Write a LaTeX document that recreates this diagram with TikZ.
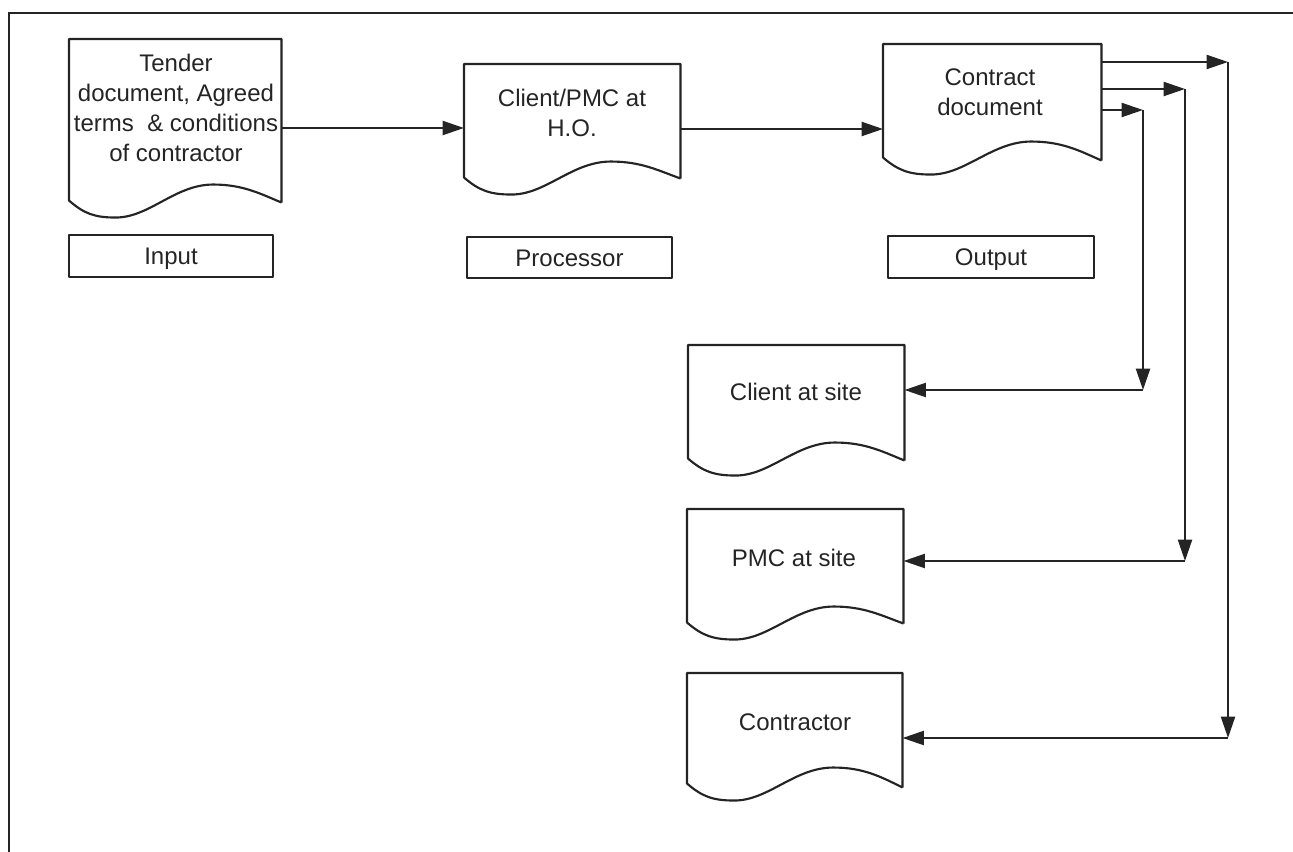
\documentclass[tikz,border=0pt]{standalone}
\usepackage{fontspec}
\setmainfont{Liberation Sans}
\usetikzlibrary{arrows.meta,calc}
\definecolor{ink}{HTML}{242424}
\tikzset{
  ln/.style={draw=ink, line width=1.6pt, line join=round},
  arr/.style={ln, -{Triangle[length=16pt,width=10.5pt]}},
  docbox/.style={rectangle, draw=none, inner sep=0pt, anchor=north west},
  doctext/.style={font=\fontsize{18}{22.5}\selectfont, text=ink, align=center, inner sep=0pt},
  tagbox/.style={ln, rectangle, inner sep=0pt, text height=12.9pt, text depth=0pt, font=\fontsize{18}{22}\selectfont, text=ink},
}
\newcommand\docnode[6]{%
  \node[docbox, minimum width=#4*0.75pt, minimum height=#5*0.75pt] (#1) at (#2,#3) {};
  \draw[ln] ($(#1.south east)+(0,#6)$) -- (#1.north east) -- (#1.north west) -- (#1.south west)
   .. controls ($(#1.south west)+(0.07*#4,13)$) and ($(#1.south west)+(0.12*#4,17)$) .. ($(#1.south west)+(0.22*#4,17)$)
   .. controls ($(#1.south west)+(0.38*#4,17)$) and ($(#1.south west)+(0.5*#4,-16)$) .. ($(#1.south west)+(0.68*#4,-16)$)
   .. controls ($(#1.south west)+(0.82*#4,-16)$) and ($(#1.south west)+(0.9*#4,-7)$) .. ($(#1.south east)+(0,#6)$);
}
\begin{document}
\begin{tikzpicture}[x=0.75pt,y=-0.75pt]
\useasboundingbox (0,0) rectangle (1293,852);
% frame
\draw[ink, line width=1.6pt] (9,852) -- (9,13) -- (1293,13);
% documents
\docnode{in}{69}{39}{212}{161}{2}
\docnode{proc}{464}{64}{216}{113}{1}
\docnode{out}{883}{44}{218}{113}{3}
\docnode{client}{688}{345}{216}{113}{2}
\docnode{pmc}{687}{509}{216}{113}{1}
\docnode{contr}{687}{673}{215}{110}{4}
% document texts
\node[doctext] (in-t) at (176,108) {Tender\\document, Agreed\\terms \ \& conditions\\of contractor};
\node[doctext] (proc-t) at (572,113) {Client/PMC at\\H.O.};
\node[doctext] (out-t) at (990,92) {Contract\\document};
\node[doctext] (client-t) at (796,392) {Client at site};
\node[doctext] (pmc-t) at (794,558) {PMC at site};
\node[doctext] (contr-t) at (795,722) {Contractor};
% tag boxes
\node[tagbox, minimum width=204*0.75pt, minimum height=42*0.75pt] (in-tag) at (171,256) {Input};
\node[tagbox, minimum width=205*0.75pt, minimum height=41*0.75pt] (proc-tag) at (569.5,257.5) {Processor};
\node[tagbox, minimum width=206*0.75pt, minimum height=42*0.75pt] (out-tag) at (991,257) {Output};
% routing points
\coordinate (ya) at (0,128);
\coordinate (yb) at (0,129);
\coordinate (t1) at (1143,110);
\coordinate (t2) at (1185,89);
\coordinate (t3) at (1228,62);
\coordinate (b1) at (1143,390);
\coordinate (b2) at (1185,561);
\coordinate (b3) at (1228,738);
% connectors
\draw[arr] (in.east |- ya) -- (proc.west |- ya);
\draw[arr] (proc.east |- yb) -- (out.west |- yb);
\draw[arr] (out.east |- t1) -- (t1);
\draw[arr] (out.east |- t2) -- (t2);
\draw[arr] (out.east |- t3) -- (t3);
\draw[arr] (t1) -- (b1);
\draw[arr] (t2) -- (b2);
\draw[arr] (t3) -- (b3);
\draw[arr] (b1) -- (client.east |- b1);
\draw[arr] (b2) -- (pmc.east |- b2);
\draw[arr] (b3) -- (contr.east |- b3);
\end{tikzpicture}
\end{document}
